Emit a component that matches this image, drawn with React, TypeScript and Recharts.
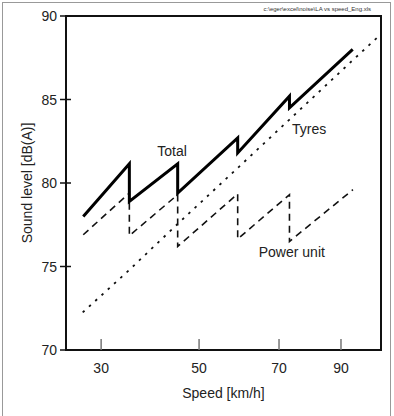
import { LineChart, Line, XAxis, YAxis, ReferenceArea, ReferenceDot, Label } from 'recharts';

// speeds in km/h, levels in dB(A)
const TOTAL_SPEED = [26.7, 35.4, 35.4, 45.3, 45.3, 59.1, 59.1, 73.0, 73.0, 94.6];
const TOTAL_DB = [78.0, 81.15, 78.9, 81.15, 79.4, 82.7, 81.8, 85.2, 84.5, 88.0];

const POWER_SPEED = [26.7, 35.4, 35.4, 45.3, 45.3, 59.1, 59.1, 73.0, 73.0, 94.7];
const POWER_DB = [76.9, 79.4, 76.85, 79.3, 76.2, 79.35, 76.65, 79.3, 76.5, 79.6];

const TYRES_SPEED = [26.6, 35.4, 45.3, 59.1, 73.0, 94.6, 107.2];
const TYRES_DB = [72.25, 74.8, 77.55, 80.9, 83.8, 87.35, 88.85];

const X_TICKS = [30, 50, 70, 90];
const Y_TICKS = [70, 75, 80, 85, 90];
const X_DOMAIN = [23.6, 107.8];
const Y_DOMAIN = [70, 90];

const LABELS = [
  { text: 'Total', speed: 44.1, db: 81.9 },
  { text: 'Tyres', speed: 79.0, db: 83.23 },
  { text: 'Power unit', speed: 73.7, db: 75.87 },
];

const FONT = '"Liberation Sans", Arial, sans-serif';

const zip = (xs: number[], ys: number[]) => xs.map((speed, i) => ({ speed, db: ys[i] }));
const totalData = zip(TOTAL_SPEED, TOTAL_DB);
const powerData = zip(POWER_SPEED, POWER_DB);
const tyresData = zip(TYRES_SPEED, TYRES_DB);

// the speed axis of the original is not linear: gaps between ticks shrink
const warp = (v: number) => {
  const t = (v - 30) / 20;
  return 107 * t - 9 * t * t;
};

function speedScale(dom: number[] = [0, 1], rng: number[] = [0, 1]): any {
  const s: any = (v: number) => {
    const w0 = warp(dom[0]);
    const w1 = warp(dom[1]);
    return rng[0] + ((warp(v) - w0) / (w1 - w0)) * (rng[1] - rng[0]);
  };
  s.domain = (d?: number[]) => {
    if (d === undefined) return dom.slice();
    dom = d.slice();
    return s;
  };
  s.range = (r?: number[]) => {
    if (r === undefined) return rng.slice();
    rng = r.slice();
    return s;
  };
  s.copy = () => speedScale(dom, rng);
  s.ticks = () => X_TICKS;
  return s;
}

function XTick(props: any) {
  const { x, y, payload } = props;
  return (
    <g>
      <line x1={x} x2={x} y1={y} y2={y - 11} stroke="#777" strokeWidth={1.5} />
      <text x={x} y={y + 23} textAnchor="middle" fontSize={14} fontFamily={FONT} fill="#222">
        {payload.value}
      </text>
    </g>
  );
}

function YTick(props: any) {
  const { x, y, payload } = props;
  return (
    <g>
      <line x1={x - 6} x2={x + 5} y1={y} y2={y} stroke="#111" strokeWidth={1.5} />
      <text x={x - 9} y={y + 5} textAnchor="end" fontSize={14} fontFamily={FONT} fill="#222">
        {payload.value}
      </text>
    </g>
  );
}

export default function App() {
  return (
    <div style={{ position: 'absolute', left: 0, top: 0, width: 394, height: 416, background: '#fff', overflow: 'hidden' }}>
      <div
        style={{
          position: 'absolute', left: 2, top: 2, width: 389, height: 440,
          border: '1px solid #999', boxSizing: 'border-box',
        }}
      />
      <div
        style={{
          position: 'absolute', right: 23, top: 6, fontSize: 6, fontFamily: FONT, color: '#333', whiteSpace: 'nowrap',
        }}
      >
        c:\eger\excel\noise\LA vs speed_Eng.xls
      </div>
      <div style={{ position: 'absolute', left: 0, top: 0 }}>
        <LineChart width={394} height={416} margin={{ top: 16, right: 13, bottom: 11, left: 6 }}>
          <XAxis
            dataKey="speed"
            type="number"
            scale={speedScale()}
            domain={X_DOMAIN}
            allowDataOverflow
            ticks={X_TICKS}
            tick={<XTick />}
            tickLine={false}
            tickSize={0}
            tickMargin={0}
            height={55}
            axisLine={{ stroke: '#111', strokeWidth: 2 }}
          >
            <Label
              value="Speed [km/h]"
              position="insideBottom"
              offset={7}
              style={{ fontSize: 14, fontFamily: FONT, fill: '#222' }}
            />
          </XAxis>
          <YAxis
            type="number"
            domain={Y_DOMAIN}
            ticks={Y_TICKS}
            tick={<YTick />}
            tickLine={false}
            tickSize={0}
            tickMargin={0}
            width={60}
            axisLine={{ stroke: '#111', strokeWidth: 2 }}
          >
            <Label
              content={(p: any) => {
                const vb = p.viewBox;
                const cx = vb.x + 26;
                const cy = vb.y + vb.height / 2;
                return (
                  <text
                    x={cx}
                    y={cy}
                    transform={`rotate(-90, ${cx}, ${cy})`}
                    textAnchor="middle"
                    fontSize={14}
                    fontFamily={FONT}
                    fill="#222"
                  >
                    Sound level [dB(A)]
                  </text>
                );
              }}
            />
          </YAxis>
          <ReferenceArea
            x1={X_DOMAIN[0]}
            x2={X_DOMAIN[1]}
            y1={Y_DOMAIN[0]}
            y2={Y_DOMAIN[1]}
            fill="none"
            fillOpacity={0}
            stroke="#111"
            strokeWidth={2}
            ifOverflow="extendDomain"
          />
          <Line
            data={tyresData}
            dataKey="db"
            stroke="#111"
            strokeWidth={1.8}
            strokeDasharray="2.5 6"
            dot={false}
            isAnimationActive={false}
          />
          <Line
            data={powerData}
            dataKey="db"
            stroke="#111"
            strokeWidth={1.6}
            strokeDasharray="7 5"
            dot={false}
            isAnimationActive={false}
          />
          <Line
            data={totalData}
            dataKey="db"
            stroke="#000"
            strokeWidth={3}
            strokeLinejoin="miter"
            dot={false}
            isAnimationActive={false}
          />
          {LABELS.map((l) => (
            <ReferenceDot
              key={l.text}
              x={l.speed}
              y={l.db}
              r={0}
              fill="none"
              stroke="none"
              label={{ value: l.text, position: 'center', fontSize: 14, fontFamily: FONT, fill: '#222' }}
            />
          ))}
        </LineChart>
      </div>
    </div>
  );
}
